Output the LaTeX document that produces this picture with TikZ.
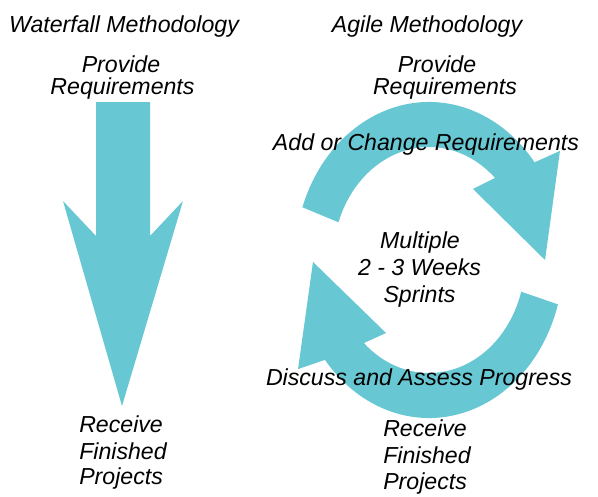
\documentclass[tikz,border=0pt]{standalone}
\usepackage{fontspec}
\setmainfont{Liberation Sans}
\definecolor{teal1}{RGB}{103,199,210}
\begin{document}
\begin{tikzpicture}[x=0.75pt,y=-0.75pt,
  lbl/.style={font=\fontsize{17.35}{20}\selectfont\itshape, inner sep=0pt, anchor=base},
  lbll/.style={font=\fontsize{17.35}{20}\selectfont\itshape, inner sep=0pt, anchor=base west},
  bigarrow/.style={fill=teal1, draw=none}]
\useasboundingbox (0,0) rectangle (598,496);

% Waterfall arrow
\fill[bigarrow] (96,102) -- (150,102) -- (150,236) -- (183,201) -- (122,406)
  -- (63,201) -- (96,236) -- cycle;

% Agile circular arrows
\begin{scope}[shift={(429,260)}, xscale=0.85, yscale=-1]
  \fill[bigarrow] (160.5:158) arc[start angle=160.5, end angle=38.2, radius=158]
    -- (35.3:188.8) -- (0:136.5) -- (53.9:87.9) -- (46.6:113)
    arc[start angle=46.6, end angle=160.5, radius=113] -- cycle;
  \fill[bigarrow] (343.7:158) arc[start angle=343.7, end angle=219.2, radius=158]
    -- (215.3:188.8) -- (180.8:136.5) -- (235.3:88.8) -- (227.3:113)
    arc[start angle=227.3, end angle=343.7, radius=113] -- cycle;
\end{scope}

% Titles
\node[lbl] (wt) at (124,32) {Waterfall Methodology};
\node[lbl] (at) at (427,32) {Agile Methodology};

% Waterfall texts
\node[lbl] (wp1) at (121,72) {Provide};
\node[lbl] (wp2) at (122.5,94) {Requirements};
\node[lbll] (wr1) at (79,432) {Receive};
\node[lbll] (wr2) at (79,459) {Finished};
\node[lbll] (wr3) at (79,484) {Projects};

% Agile texts
\node[lbl] (ap1) at (437,72) {Provide};
\node[lbl] (ap2) at (445,94) {Requirements};
\node[lbl] (ac) at (426,150) {Add or Change Requirements};
\node[lbl] (am1) at (420,248) {Multiple};
\node[lbl] (am2) at (419.5,275) {2 - 3 Weeks};
\node[lbl] (am3) at (419.5,302) {Sprints};
\node[lbl] (ad) at (419,385) {Discuss and Assess Progress};
\node[lbll] (ar1) at (383,436) {Receive};
\node[lbll] (ar2) at (383,463) {Finished};
\node[lbll] (ar3) at (383,489) {Projects};
\end{tikzpicture}
\end{document}
